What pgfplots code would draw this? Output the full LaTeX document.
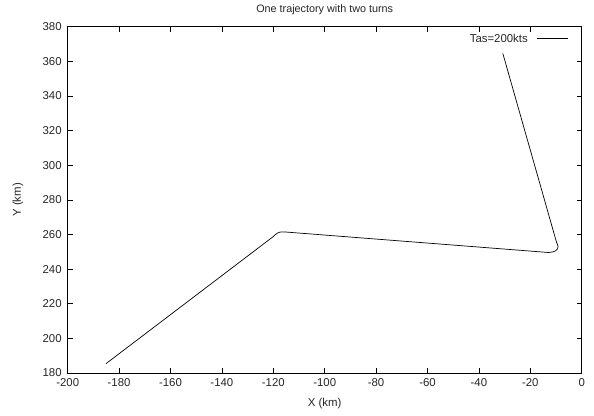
\documentclass[border=0pt]{standalone}
\usepackage{fontspec}
\setmainfont{Liberation Sans}
\usepackage{pgfplots}
\pgfplotsset{compat=1.18}
\begin{document}
\begin{tikzpicture}
\begin{axis}[
  scale only axis,
  width=514pt, height=346.3pt,
  xmin=-200, xmax=0, ymin=180, ymax=380,
  xtick={-200,-180,...,0}, ytick={180,200,...,380},
  tick align=inside,
  major tick length=5pt,
  tick style={black, line width=0.6pt},
  axis line style={line width=0.8pt},
  /pgf/number format/assume math mode=true,
  ticklabel style={font=\fontsize{11.4}{13}\selectfont, text=black!85},
  yticklabel style={xshift=-2.5pt},
  xticklabel style={yshift=-2.5pt},
  every axis title/.style={at={(axis description cs:0.5,1)}, anchor=center, yshift=16.7pt, font=\fontsize{10.8}{13}\selectfont, text=black!85},
  every axis x label/.style={at={(axis description cs:0.5,0)}, anchor=center, yshift=-30.3pt, font=\fontsize{11.4}{13}\selectfont, text=black!85},
  every axis y label/.style={at={(axis description cs:0,0.5)}, anchor=center, rotate=90, yshift=49.7pt, font=\fontsize{11.4}{13}\selectfont, text=black!85},
  title={One trajectory with two turns},
  xlabel={X (km)}, ylabel={Y (km)},
  legend style={draw=none, fill=none, at={(1,1)}, anchor=north east, xshift=-10pt, yshift=-3pt, font=\fontsize{11.4}{13}\selectfont, text=black!85,
    /tikz/every odd column/.append style={column sep=7pt}},
  legend plot pos=right,
  legend image code/.code={\draw[#1] (0pt,0pt) -- (31pt,0pt);},
]
\addplot[black, line width=0.7pt] coordinates {
(-185.1,185.4) (-120.0,258.8) (-119.2,259.9) (-118.4,260.8) (-117.6,261.3) (-116.6,261.5) (-115.0,261.4)
(-13.0,249.6) (-11.3,249.9) (-10.1,250.6) (-9.4,251.7) (-9.2,253.0) (-9.5,254.5) (-9.8,255.5)
(-30.7,364.6)
};
\addlegendentry{Tas=200kts}
\end{axis}
\path (current axis.south west) ++(-67.7pt,-43pt) coordinate (bbA);
\path (current axis.north east) ++(12.3pt,26.7pt) coordinate (bbB);
\useasboundingbox (bbA) rectangle (bbB);
\end{tikzpicture}
\end{document}
